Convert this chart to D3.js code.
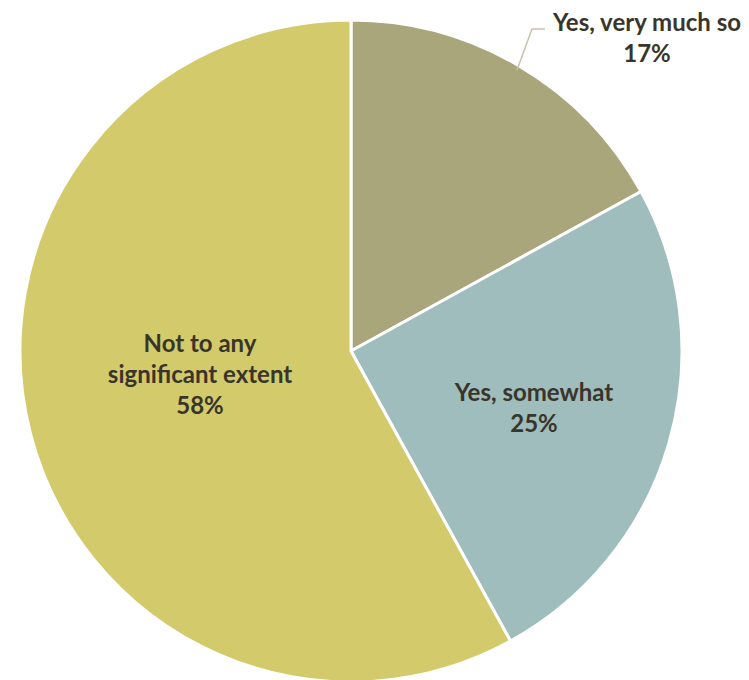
<!DOCTYPE html>
<html>
<head>
<meta charset="utf-8">
<script src="https://cdn.jsdelivr.net/npm/d3@7"></script>
<style>
  html, body { margin: 0; padding: 0; background: #ffffff; }
  svg { display: block; }
  text { font-family: Lato, "Open Sans", "DejaVu Sans", sans-serif; font-weight: 700; fill: #39352a; }
</style>
</head>
<body>
<svg id="chart" width="749" height="680"></svg>
<script>
// Survey answers, in clockwise order from 12 o'clock
const categories = ["Yes, very much so", "Yes, somewhat", "Not to any significant extent"];
const values = [17, 25, 58];
const colors = ["#a9a67c", "#9ebdbc", "#d2ca6b"];
// Label lines for each slice (category text split for wrapping, then percentage)
const labelLines = [
  ["Yes, very much so", "17%"],
  ["Yes, somewhat", "25%"],
  ["Not to any", "significant extent", "58%"]
];

const cx = 351, cy = 351, radius = 331;
const fontSize = 24, lineHeight = 31;

// Where each label's first baseline sits, relative to the pie centre
const labelAnchor = [
  { dx: 296, dy: -320 },
  { dx: 183, dy: 50 },
  { dx: -151, dy: 1 }
];

const svg = d3.select("#chart");
const g = svg.append("g").attr("transform", `translate(${cx},${cy})`);

const data = categories.map((c, i) => ({ category: c, value: values[i], color: colors[i], lines: labelLines[i] }));

const pie = d3.pie().value(d => d.value).sort(null);
const arcs = pie(data);
const arc = d3.arc().innerRadius(0).outerRadius(radius);

g.selectAll("path.slice")
  .data(arcs)
  .join("path")
  .attr("class", "slice")
  .attr("d", arc)
  .attr("fill", d => d.data.color)
  .attr("stroke", "#ffffff")
  .attr("stroke-width", 3)
  .attr("stroke-linejoin", "miter");

function labelBlock(sel, x, y, lines) {
  const t = sel.append("text")
    .attr("text-anchor", "middle")
    .attr("font-size", fontSize);
  lines.forEach((ln, j) => {
    t.append("tspan").attr("x", x).attr("y", y + j * lineHeight).text(ln);
  });
  return t;
}

arcs.forEach((a, i) => {
  const pos = labelAnchor[i];
  if (i === 0) {
    // Bent leader line from the small slice's rim to its outside label
    const mid = (a.startAngle + a.endAngle) / 2;
    const p0 = [Math.sin(mid) * radius * 0.985, -Math.cos(mid) * radius * 0.985];
    const elbow = [p0[0] + 15, -322];
    const end = [elbow[0] + 13, elbow[1]];
    g.append("polyline")
      .attr("points", [p0, elbow, end].map(p => p.join(",")).join(" "))
      .attr("fill", "none")
      .attr("stroke", "#c9c2ae")
      .attr("stroke-width", 1.5);
  }
  labelBlock(g, pos.dx, pos.dy, a.data.lines);
});
</script>
</body>
</html>
